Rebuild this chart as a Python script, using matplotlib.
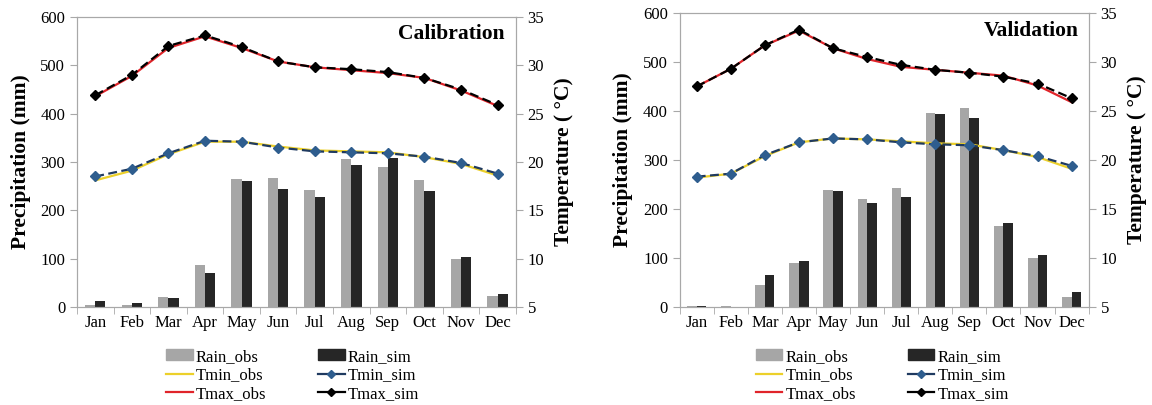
import numpy as np
import matplotlib
matplotlib.use("Agg")
import matplotlib.pyplot as plt
from matplotlib.lines import Line2D
from matplotlib.patches import Patch

plt.rcParams['font.family'] = ['Liberation Serif', 'DejaVu Serif']

months = ["Jan", "Feb", "Mar", "Apr", "May", "Jun", "Jul", "Aug", "Sep", "Oct", "Nov", "Dec"]

# Calibration
cal_rain_obs = [5, 5, 20, 86, 265, 266, 243, 306, 289, 263, 99, 23]
cal_rain_sim = [12, 9, 19, 71, 260, 245, 228, 294, 309, 241, 104, 26]
cal_tmin_obs = [18.1, 19.1, 20.8, 22.1, 22.1, 21.6, 21.2, 21.1, 21.0, 20.5, 19.8, 18.6]
cal_tmin_sim = [18.5, 19.3, 20.9, 22.2, 22.1, 21.5, 21.1, 21.0, 20.9, 20.55, 19.9, 18.8]
cal_tmax_obs = [26.8, 28.9, 31.8, 33.0, 31.8, 30.4, 29.8, 29.5, 29.2, 28.7, 27.4, 25.8]
cal_tmax_sim = [26.9, 29.0, 32.0, 33.1, 31.9, 30.4, 29.8, 29.6, 29.3, 28.7, 27.5, 25.9]

# Validation
val_rain_obs = [2, 3, 44, 90, 238, 221, 243, 395, 406, 166, 100, 20]
val_rain_sim = [3, 0, 65, 94, 236, 212, 225, 393, 386, 172, 107, 30]
val_tmin_obs = [18.2, 18.6, 20.4, 21.8, 22.2, 22.1, 21.9, 21.7, 21.6, 21.0, 20.3, 19.1]
val_tmin_sim = [18.3, 18.6, 20.5, 21.8, 22.2, 22.1, 21.8, 21.6, 21.5, 21.0, 20.4, 19.4]
val_tmax_obs = [27.5, 29.3, 31.7, 33.2, 31.4, 30.3, 29.5, 29.2, 28.9, 28.6, 27.6, 25.9]
val_tmax_sim = [27.5, 29.3, 31.7, 33.3, 31.4, 30.5, 29.7, 29.2, 28.9, 28.5, 27.8, 26.3]

c_obs_bar = "#a6a6a6"
c_sim_bar = "#262626"
c_tmin_obs = "#ecd02a"
c_tmin_line = "#1f3a60"
c_tmin_mark = "#2e5d8e"
c_tmax_obs = "#e0242a"
spine_c = "#a8a8a8"


def draw_panel(ax, title, r_obs, r_sim, tn_obs, tn_sim, tx_obs, tx_sim, leg_x):
    x = np.arange(len(months))
    w = 0.28
    ax.bar(x - w / 2, r_obs, w, color=c_obs_bar, zorder=2)
    ax.bar(x + w / 2, r_sim, w, color=c_sim_bar, zorder=2)
    ax.set_xlim(-0.5, 11.5)
    ax.set_ylim(0, 600)
    ax.set_yticks(range(0, 601, 100))
    ax.set_xticks(x)
    ax.set_xticklabels(months, fontsize=12)
    ax.set_xticks(np.arange(-0.5, 12, 1), minor=True)
    ax.tick_params(axis='x', which='major', length=0, pad=6)
    ax.tick_params(axis='x', which='minor', length=5, color=spine_c, direction='out')
    ax.tick_params(axis='y', length=5, color=spine_c, labelsize=12, direction='out')
    ax.set_ylabel("Precipitation (mm)", fontsize=15.5, fontweight='bold', labelpad=7)

    ax2 = ax.twinx()
    ax2.plot(x, tn_obs, color=c_tmin_obs, lw=1.6, zorder=3)
    ax2.plot(x, tn_sim, color=c_tmin_line, lw=1.6, ls=(0, (4, 2)), marker='D', ms=5,
             mfc=c_tmin_mark, mec=c_tmin_mark, zorder=4)
    ax2.plot(x, tx_obs, color=c_tmax_obs, lw=1.6, zorder=3)
    ax2.plot(x, tx_sim, color='black', lw=1.6, ls=(0, (4, 2)), marker='D', ms=5,
             mfc='black', mec='black', zorder=4)
    ax2.set_ylim(5, 35)
    ax2.set_yticks(range(5, 36, 5))
    ax2.tick_params(axis='y', length=5, color=spine_c, labelsize=12, direction='out')
    ax2.set_ylabel("Temperature ( °C)", fontsize=15.5, fontweight='bold', labelpad=7)

    for a in (ax, ax2):
        for s in a.spines.values():
            s.set_color(spine_c)
            s.set_linewidth(0.8)

    ax.text(0.975, 0.94, title, transform=ax.transAxes, ha='right', va='center',
            fontsize=15.5, fontweight='bold')

    handles = [
        Patch(color=c_obs_bar), Line2D([], [], color=c_tmin_obs, lw=1.6),
        Line2D([], [], color=c_tmax_obs, lw=1.6),
        Patch(color=c_sim_bar),
        Line2D([], [], color=c_tmin_line, lw=1.6, marker='D', ms=4, mfc=c_tmin_mark, mec=c_tmin_mark),
        Line2D([], [], color='black', lw=1.6, marker='D', ms=4, mfc='black', mec='black'),
    ]
    labels = ["Rain_obs", "Tmin_obs", "Tmax_obs", "Rain_sim", "Tmin_sim", "Tmax_sim"]
    ax.figure.legend(handles, labels, loc='upper center', bbox_to_anchor=(leg_x, 0.168),
                     ncol=2, frameon=False, fontsize=12, handlelength=1.6,
                     handletextpad=0.2, columnspacing=3.1, labelspacing=0.15,
                     handleheight=0.6, borderpad=0.2)


fig = plt.figure(figsize=(11.52, 4.05), dpi=100)
ax_l = fig.add_axes([0.0668, 0.242, 0.381, 0.716])
ax_r = fig.add_axes([0.59, 0.242, 0.355, 0.726])

draw_panel(ax_l, "Calibration", cal_rain_obs, cal_rain_sim, cal_tmin_obs, cal_tmin_sim,
           cal_tmax_obs, cal_tmax_sim, 0.254)
draw_panel(ax_r, "Validation", val_rain_obs, val_rain_sim, val_tmin_obs, val_tmin_sim,
           val_tmax_obs, val_tmax_sim, 0.766)

fig.savefig("out.png", dpi=100)
